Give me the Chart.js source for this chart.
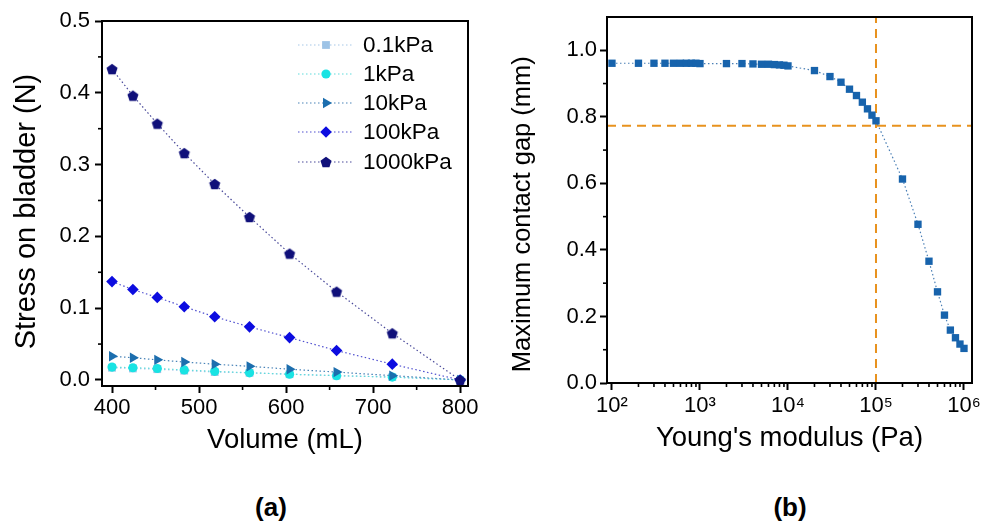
<!DOCTYPE html>
<html><head><meta charset="utf-8">
<script src="https://cdn.jsdelivr.net/npm/chart.js"></script>
<style>
html,body{margin:0;padding:0;background:#fff;}
body{width:984px;height:526px;position:relative;overflow:hidden;font-family:"Liberation Sans",Arial,sans-serif;color:#000;}
#ca{position:absolute;left:0;top:0;}
#cb{position:absolute;left:492px;top:0;}
.lab{position:absolute;font-weight:bold;font-size:26px;transform:translate(-50%,-50%);}
#legend{position:absolute;left:298px;top:30px;}
.row{height:29.25px;display:flex;align-items:center;}
.row span{font-size:22.5px;margin-left:9px;white-space:nowrap;}
</style></head><body>
<canvas id="ca" width="492" height="470"></canvas>
<canvas id="cb" width="492" height="470"></canvas>
<div id="legend"></div>
<div class="lab" style="left:271px;top:507px">(a)</div>
<div class="lab" style="left:790px;top:507px">(b)</div>
<script>
// ---------- Panel (a) data ----------
const volume = [400, 424, 452, 483, 518, 558, 604, 658, 722, 800];
const stress01kPa  = [0.017, 0.016, 0.015, 0.013, 0.011, 0.010, 0.008, 0.006, 0.004, 0.000];
const stress1kPa   = [0.018, 0.017, 0.016, 0.014, 0.012, 0.010, 0.008, 0.006, 0.004, 0.000];
const stress10kPa  = [0.033, 0.031, 0.028, 0.025, 0.022, 0.019, 0.015, 0.011, 0.006, 0.000];
const stress100kPa = [0.137, 0.126, 0.115, 0.102, 0.088, 0.074, 0.059, 0.041, 0.022, 0.000];
const stress1000kPa= [0.433, 0.396, 0.357, 0.316, 0.273, 0.227, 0.176, 0.123, 0.065, 0.000];
const seriesNamesA = ['0.1kPa', '1kPa', '10kPa', '100kPa', '1000kPa'];
const volRange = [388.5, 809];
const volTicks = [400, 500, 600, 700, 800];
const volTickLabels = ['400', '500', '600', '700', '800'];
const volMinorTicks = [450, 550, 650, 750];
const stressRange = [-0.0084, 0.5];
const stressTicks = [0, 0.1, 0.2, 0.3, 0.4, 0.5];
const stressTickLabels = ['0.0', '0.1', '0.2', '0.3', '0.4', '0.5'];
const stressMinorTicks = [0.05, 0.15, 0.25, 0.35, 0.45];

// ---------- Panel (b) data ----------
const modulus = [100, 200, 300, 400, 500, 600, 700, 800, 900, 1000,
  2000, 3000, 4000, 5000, 6000, 7000, 8000, 9000, 10000,
  20000, 30000, 40000, 50000, 60000, 70000, 80000, 90000, 100000,
  200000, 300000, 400000, 500000, 600000, 700000, 800000, 900000, 1000000];
const contactGap = [0.961, 0.961, 0.961, 0.961, 0.961, 0.961, 0.961, 0.961, 0.961, 0.960,
  0.960, 0.960, 0.959, 0.958, 0.958, 0.957, 0.956, 0.955, 0.953,
  0.939, 0.921, 0.904, 0.883, 0.864, 0.844, 0.824, 0.805, 0.788,
  0.613, 0.477, 0.366, 0.274, 0.204, 0.159, 0.136, 0.117, 0.104];
const refModulus = [100000];
const refGap = [0.773];
const modRange = [87.8, 1232000];
const modTicks = [100, 1000, 10000, 100000, 1000000];
const modTickLabels = ['10\u00B2', '10\u00B3', '10\u2074', '10\u2075', '10\u2076'];
const modMinorTicks = [200, 300, 400, 500, 600, 700, 800, 900,
  2000, 3000, 4000, 5000, 6000, 7000, 8000, 9000,
  20000, 30000, 40000, 50000, 60000, 70000, 80000, 90000,
  200000, 300000, 400000, 500000, 600000, 700000, 800000, 900000];
const gapRange = [0, 1.1];
const gapTicks = [0, 0.2, 0.4, 0.6, 0.8, 1.0];
const gapTickLabels = ['0.0', '0.2', '0.4', '0.6', '0.8', '1.0'];
const gapMinorTicks = [0.1, 0.3, 0.5, 0.7, 0.9];

// ---------- styling ----------
const FF = "'Liberation Sans', Arial, sans-serif";
Chart.defaults.font.family = FF;
Chart.defaults.color = '#000';

const markerColors = ['#9DC3E6', '#19E3E3', '#1C6EAE', '#0C0CE0', '#10107A'];
const lineColors   = ['#A6C8E8', '#5FDCDC', '#4A84B8', '#5050D0', '#4A4A9A'];

function makePentagon(r, color) {
  const c = document.createElement('canvas');
  const s = Math.ceil(r * 2 + 2);
  c.width = s; c.height = s;
  const g = c.getContext('2d');
  g.fillStyle = color;
  g.beginPath();
  for (let i = 0; i < 5; i++) {
    const ang = -Math.PI / 2 + i * 2 * Math.PI / 5;
    const px = s / 2 + r * Math.cos(ang), py = s / 2 + 0.5 + r * Math.sin(ang);
    if (i === 0) g.moveTo(px, py); else g.lineTo(px, py);
  }
  g.closePath();
  g.fill();
  return c;
}
const pentagon = makePentagon(5.8, markerColors[4]);

const pointStyles = ['rect', 'circle', 'triangle', 'rectRot', pentagon];
const pointRadii  = [5.5, 4.6, 6, 5.8, 5.8];
const pointRot    = [0, 0, 90, 0, 0];

// plot frame + minor ticks, positioned through the chart's own scales
function makeFrame(xMinor, yMinor) {
  return {
    id: 'frameTicks',
    afterDraw(chart) {
      const ctx = chart.ctx;
      const a = chart.chartArea;
      const xs = chart.scales.x, ys = chart.scales.y;
      ctx.save();
      ctx.fillStyle = '#000000';
      for (const v of xMinor) { const p = xs.getPixelForValue(v); ctx.fillRect(p - 0.8, a.bottom, 1.6, 4); }
      for (const v of yMinor) { const p = ys.getPixelForValue(v); ctx.fillRect(a.left - 4, p - 0.8, 4, 1.6); }
      const L = Math.round(a.left), T = Math.round(a.top), R = Math.round(a.right), B = Math.round(a.bottom);
      ctx.fillRect(L - 1, T - 1, R - L + 2, 2);
      ctx.fillRect(L - 1, B - 1, R - L + 2, 2);
      ctx.fillRect(L - 1, T - 1, 2, B - T + 2);
      ctx.fillRect(R - 1, T - 1, 2, B - T + 2);
      ctx.restore();
    }
  };
}

const majorGrid = {display: true, drawOnChartArea: false, drawTicks: true, tickLength: 7, tickWidth: 2, tickColor: '#000'};

// ---------- Chart (a) ----------
const seriesA = [stress01kPa, stress1kPa, stress10kPa, stress100kPa, stress1000kPa];
const datasetsA = seriesA.map((vals, i) => ({
  label: seriesNamesA[i],
  data: volume.map((v, j) => ({x: v, y: vals[j]})),
  showLine: true,
  borderColor: lineColors[i],
  borderWidth: 1.2,
  borderDash: [1.5, 2.5],
  pointStyle: pointStyles[i],
  pointRadius: pointRadii[i],
  pointRotation: pointRot[i],
  pointBackgroundColor: markerColors[i],
  pointBorderColor: markerColors[i],
  pointBorderWidth: 0,
  order: 5 - i,
  clip: false
}));

new Chart(document.getElementById('ca'), {
  type: 'scatter',
  data: {datasets: datasetsA},
  plugins: [makeFrame(volMinorTicks, stressMinorTicks)],
  options: {
    responsive: false, animation: false, devicePixelRatio: 1,
    layout: {padding: {left: 0, top: 21, right: 24, bottom: 0}},
    plugins: {legend: {display: false}, tooltip: {enabled: false}},
    scales: {
      x: {
        type: 'linear', min: volRange[0], max: volRange[1],
        afterBuildTicks: s => { s.ticks = volTicks.map(v => ({value: v})); },
        afterFit: s => { s.height = 84; },
        grid: majorGrid, border: {display: false},
        ticks: {padding: 2, maxRotation: 0, autoSkip: false, font: {size: 22}, callback: (v, i) => volTickLabels[i]},
        title: {display: true, text: 'Volume (mL)', font: {size: 27.5}, padding: {top: 0, bottom: 13}}
      },
      y: {
        type: 'linear', min: stressRange[0], max: stressRange[1],
        afterBuildTicks: s => { s.ticks = stressTicks.map(v => ({value: v})); },
        afterFit: s => { s.width = 102; },
        grid: majorGrid, border: {display: false},
        ticks: {padding: 5, autoSkip: false, font: {size: 22}, callback: (v, i) => stressTickLabels[i]},
        title: {display: true, text: 'Stress on bladder (N)  ', font: {size: 29}, padding: {top: 10, bottom: 0}}
      }
    }
  }
});

// ---------- Chart (b) ----------
const blue = '#1763AC';
new Chart(document.getElementById('cb'), {
  type: 'scatter',
  data: {datasets: [
    {
      label: 'Maximum contact gap',
      data: modulus.map((m, j) => ({x: m, y: contactGap[j]})),
      showLine: true, borderColor: '#4A7FB5', borderWidth: 1.2, borderDash: [1.5, 2.5],
      pointStyle: 'rect', pointRadius: 5.2, pointBackgroundColor: blue, pointBorderColor: blue, pointBorderWidth: 0,
      order: 1, clip: false
    },
    {
      label: 'E = 1e5 Pa',
      data: [{x: refModulus[0], y: gapRange[0]}, {x: refModulus[0], y: gapRange[1]}],
      showLine: true, borderColor: '#E8921E', borderWidth: 2, borderDash: [9, 6],
      pointRadius: 0, order: 2
    },
    {
      label: 'gap 0.773 mm',
      data: [{x: modRange[0], y: refGap[0]}, {x: modRange[1], y: refGap[0]}],
      showLine: true, borderColor: '#E8921E', borderWidth: 2, borderDash: [9, 6],
      pointRadius: 0, order: 3
    }
  ]},
  plugins: [makeFrame(modMinorTicks, gapMinorTicks)],
  options: {
    responsive: false, animation: false, devicePixelRatio: 1,
    layout: {padding: {left: 0, top: 17, right: 11, bottom: 0}},
    plugins: {legend: {display: false}, tooltip: {enabled: false}},
    scales: {
      x: {
        type: 'logarithmic', min: modRange[0], max: modRange[1],
        afterBuildTicks: s => { s.ticks = modTicks.map(v => ({value: v})); },
        afterFit: s => { s.height = 87; },
        grid: majorGrid, border: {display: false},
        ticks: {padding: 3, maxRotation: 0, autoSkip: false, font: {size: 22}, callback: (v, i) => modTickLabels[i]},
        title: {display: true, text: "Young's modulus (Pa)", font: {size: 27.5}, padding: {top: 0, bottom: 15}}
      },
      y: {
        type: 'linear', min: gapRange[0], max: gapRange[1],
        afterBuildTicks: s => { s.ticks = gapTicks.map(v => ({value: v})); },
        afterFit: s => { s.width = 115; },
        grid: majorGrid, border: {display: false},
        ticks: {padding: 3, autoSkip: false, font: {size: 22}, callback: (v, i) => gapTickLabels[i]},
        title: {display: true, text: 'Maximum contact gap (mm)    ', font: {size: 25.5}, padding: {top: 16, bottom: 0}}
      }
    }
  }
});

// ---------- Legend (a) ----------
function drawMarker(g, i, x, y) {
  g.fillStyle = markerColors[i];
  g.beginPath();
  const r = pointRadii[i];
  if (i === 0) { const h = r * Math.SQRT1_2; g.rect(x - h, y - h, 2 * h, 2 * h); }
  else if (i === 1) { g.arc(x, y, r, 0, Math.PI * 2); }
  else if (i === 2) { g.moveTo(x + r, y); g.lineTo(x - r / 2, y - r * 0.866); g.lineTo(x - r / 2, y + r * 0.866); g.closePath(); }
  else if (i === 3) { g.moveTo(x, y - r); g.lineTo(x + r, y); g.lineTo(x, y + r); g.lineTo(x - r, y); g.closePath(); }
  else { g.drawImage(pentagon, x - pentagon.width / 2, y - pentagon.height / 2); return; }
  g.fill();
}
const leg = document.getElementById('legend');
seriesNamesA.forEach((name, i) => {
  const row = document.createElement('div'); row.className = 'row';
  const c = document.createElement('canvas'); c.width = 56; c.height = 14;
  const g = c.getContext('2d');
  g.strokeStyle = lineColors[i]; g.lineWidth = 1.2; g.setLineDash([1.5, 2.5]);
  g.beginPath(); g.moveTo(0, 7); g.lineTo(56, 7); g.stroke();
  g.setLineDash([]);
  drawMarker(g, i, 28, 7);
  const sp = document.createElement('span'); sp.textContent = name;
  row.appendChild(c); row.appendChild(sp); leg.appendChild(row);
});
</script>
</body></html>
